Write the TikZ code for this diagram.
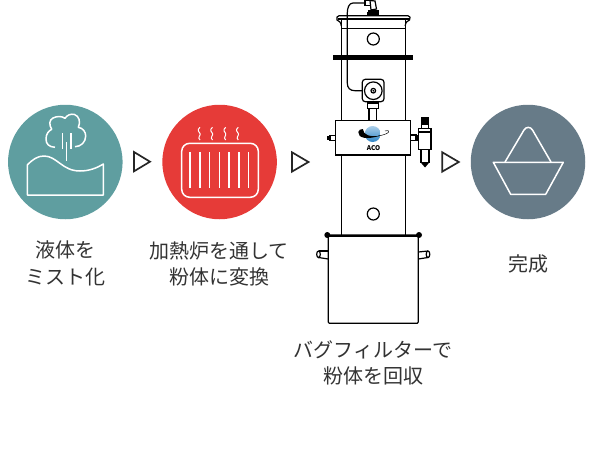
\documentclass[tikz,border=0pt]{standalone}
\usepackage{fontspec}
\setmainfont{Noto Sans CJK JP}
\definecolor{mistcolor}{HTML}{5F9EA0}
\definecolor{heatcolor}{HTML}{E63B38}
\definecolor{donecolor}{HTML}{677B88}
\definecolor{textcolor}{HTML}{333333}
\definecolor{globecolor}{HTML}{2F86C8}
\tikzset{
  stagecircle/.style={circle, minimum size=114.5pt, inner sep=0pt},
  stagelabel/.style={align=center, text=textcolor, inner sep=0pt, font=\fontsize{20}{26.5}\selectfont},
  stagearrow/.style={draw=black!85, line width=1.7pt, line join=miter},
  iconline/.style={draw=white, line width=1.5pt, line join=round},
  plant/.style={draw=black, line width=1.2pt, fill=white},
  plantline/.style={draw=black, line width=1.2pt},
}
\begin{document}
\begin{tikzpicture}[x=1pt, y=-1pt]
\useasboundingbox (0, 0) rectangle (600, 450);

\node [stagecircle, fill=mistcolor] (mist) at (65.3, 162) {};
\node [stagecircle, fill=heatcolor] (heat) at (219.6, 162) {};
\node [stagecircle, fill=donecolor] (done) at (528, 162) {};

\draw [stagearrow] (134, 152) -- (150, 161.7) -- (134, 171.3) -- cycle;
\draw [stagearrow] (292, 152.3) -- (308.5, 162) -- (292, 171.6) -- cycle;
\draw [stagearrow] (442.3, 152.3) -- (458.8, 162) -- (442.3, 171.6) -- cycle;

% mist icon
\draw [iconline] (27.3, 195) -- (27.3, 165) .. controls (33, 159) and (38, 156) .. (44, 156)
  .. controls (57, 156) and (62, 171) .. (80, 171)
  .. controls (89, 171) and (97, 168) .. (103.3, 164) -- (103.3, 195) -- cycle;
\draw [iconline] (55, 147.3) .. controls (49, 147) and (46, 144) .. (46, 139)
  .. controls (46, 134) and (48.5, 131) .. (51.7, 129.3)
  .. controls (49, 125) and (49, 120) .. (53, 118)
  .. controls (57, 116) and (62, 116) .. (65, 118.3)
  .. controls (67, 115) and (71, 113.5) .. (74.5, 114.5)
  .. controls (79, 116) and (81, 122) .. (78.3, 127.3)
  .. controls (83, 128) and (85.7, 132) .. (85.7, 136)
  .. controls (85.7, 142) and (81, 146.7) .. (75, 146.7);
\draw [iconline] (62.3, 133) -- (62.3, 149);
\draw [iconline] (66.7, 142) -- (66.7, 161);
\draw [iconline] (71, 133) -- (71, 149);

% heater icon
\draw [iconline, rounded corners=8pt] (181.7, 143.3) rectangle (258.3, 197.3);
\foreach \barx in {190, 200, 209.5, 219.5, 229, 239, 248.7}
  \draw [iconline] (\barx, 152.3) -- (\barx, 187.7);
\foreach \wavex in {200, 212.5, 225.7, 238.3}
  \draw [draw=white, line width=1pt] (\wavex, 127.3) .. controls (\wavex-3.5, 130) and (\wavex-1, 132) .. (\wavex, 133.5)
    .. controls (\wavex+1, 135.5) and (\wavex-3, 137.5) .. (\wavex, 140);

% powder icon
\draw [iconline] (493.3, 162.3) -- (563.3, 162.3) -- (545.7, 194.3) -- (510.7, 194.3) -- cycle;
\draw [iconline] (505, 162) -- (524, 130) .. controls (526, 126.5) and (530.5, 126.5) .. (532.5, 130) -- (551, 162);

% filter column
\draw [plantline] (341.3, 20) -- (341.3, 235);
\draw [plantline] (405.2, 20) -- (405.2, 235);
\draw [plantline] (341.3, 28.3) -- (405.2, 28.3);
\draw [plantline] (341.3, 26) .. controls (341, 22) and (339, 21) .. (337, 20) .. controls (336, 18) and (337, 16) .. (339, 15.7)
  -- (408, 15.7) .. controls (410, 16) and (411, 18) .. (409.5, 20) .. controls (407.5, 21) and (405.5, 22) .. (405.2, 26);
\draw [draw=black, line width=1.8pt] (337.5, 19) -- (409.5, 19);
\draw [plantline] (373.3, 39) circle [radius=6];
\draw [plantline] (373.3, 214) circle [radius=6];
\fill [black] (332.7, 55) rectangle (413.3, 59.7);
\draw [plantline] (365, 3) -- (353, 3) .. controls (349, 3) and (347.3, 8) .. (347.3, 13)
  -- (347.3, 83) .. controls (347.3, 88) and (350, 90.7) .. (355, 90.7) -- (363, 90.7);

% top fitting
\draw [plant] (365, 0.8) rectangle (371, 5.2);
\draw [plant] (370, 0.5) -- (375, 1) -- (376.5, 9) -- (371, 10) -- cycle;
\fill [black] (367.5, 10) rectangle (378.5, 12);
\fill [black] (366.7, 12) rectangle (379.3, 14.5);

% valve
\draw [plantline] (369, 101.7) -- (369, 120.7);
\draw [plantline] (376.7, 101.7) -- (376.7, 120.7);
\draw [plant] (367.5, 103) rectangle (378.5, 108.5);
\draw [plant, rounded corners=3pt] (362.3, 79.3) rectangle (384, 101.7);
\draw [plantline] (373.3, 90.7) circle [radius=8.8];
\draw [plantline] (373.3, 90.7) circle [radius=2.3];
\fill [black] (373.3, 90.7) circle [radius=1];

% mixing block
\draw [plant] (335.7, 120.7) rectangle (410.7, 155);
\draw [plant] (330, 135.5) rectangle (335.7, 140.5);
\fill [black] (327, 135.8) rectangle (330, 140.2);
\draw [plant] (410.7, 135) rectangle (416, 140.5);
\fill [black] (416, 135) rectangle (419, 140.5);

% logo
\shade [top color=globecolor!40!white, bottom color=globecolor] (372.7, 134) circle [radius=8];
\fill [black] (358.3, 132) .. controls (358, 138) and (366, 140) .. (380, 135.8) .. controls (370, 137) and (363.5, 135.5) .. (362.8, 129) .. controls (360.5, 129) and (358.8, 130) .. (358.3, 132) -- cycle;
\draw [draw=black, line width=0.5pt] (378, 136) .. controls (384, 135) and (390, 133) .. (388.5, 131) .. controls (388, 130.5) and (387, 130.5) .. (385, 131);
\node [inner sep=0pt, font=\fontsize{6.5}{6.5}\selectfont\bfseries] (logotext) at (373.5, 147.7) {ACO};

% side filter
\fill [black] (420.7, 117.3) rectangle (429.3, 124);
\draw [plant] (421.5, 124) rectangle (428.5, 128.3);
\draw [plant] (418.7, 128.3) rectangle (431, 149.3);
\draw [draw=black, line width=1.6pt] (418.7, 131.7) -- (431, 131.7);
\draw [plant, line width=1.6pt] (420.8, 149.3) -- (429.2, 149.3) -- (429.2, 162.5) -- (420.8, 162.5) -- cycle;
\fill [black] (420.3, 162) -- (429.7, 162) -- (425, 167.5) -- cycle;

% tank
\draw [plant] (328.3, 235) -- (418.3, 235) -- (418.3, 322) -- (417.3, 323.3) -- (329.3, 323.3) -- (328.3, 322) -- cycle;
\draw [draw=black, line width=2pt] (328.3, 235.5) -- (418.3, 235.5);
\fill [black] (327.3, 235) circle [radius=3];
\fill [black] (419, 235) circle [radius=3];
\draw [plantline] (328.3, 251) -- (318.5, 251);
\draw [plantline] (328.3, 259) -- (318.5, 257.5);
\draw [plantline] (318.5, 254.3) ellipse [x radius=1.8, y radius=3.3];
\draw [plantline] (418.3, 252) -- (428, 251);
\draw [plantline] (418.3, 259) -- (428, 257.5);
\draw [plantline] (428, 254.3) ellipse [x radius=1.8, y radius=3.3];

\node [stagelabel] (mistlabel) at (65, 263.5) {液体を\\ミスト化};
\node [stagelabel] (heatlabel) at (219, 264) {加熱炉を通して\\粉体に変換};
\node [stagelabel] (baglabel) at (373, 363) {バグフィルターで\\粉体を回収};
\node [stagelabel] (donelabel) at (528, 264) {完成};

\end{tikzpicture}
\end{document}
